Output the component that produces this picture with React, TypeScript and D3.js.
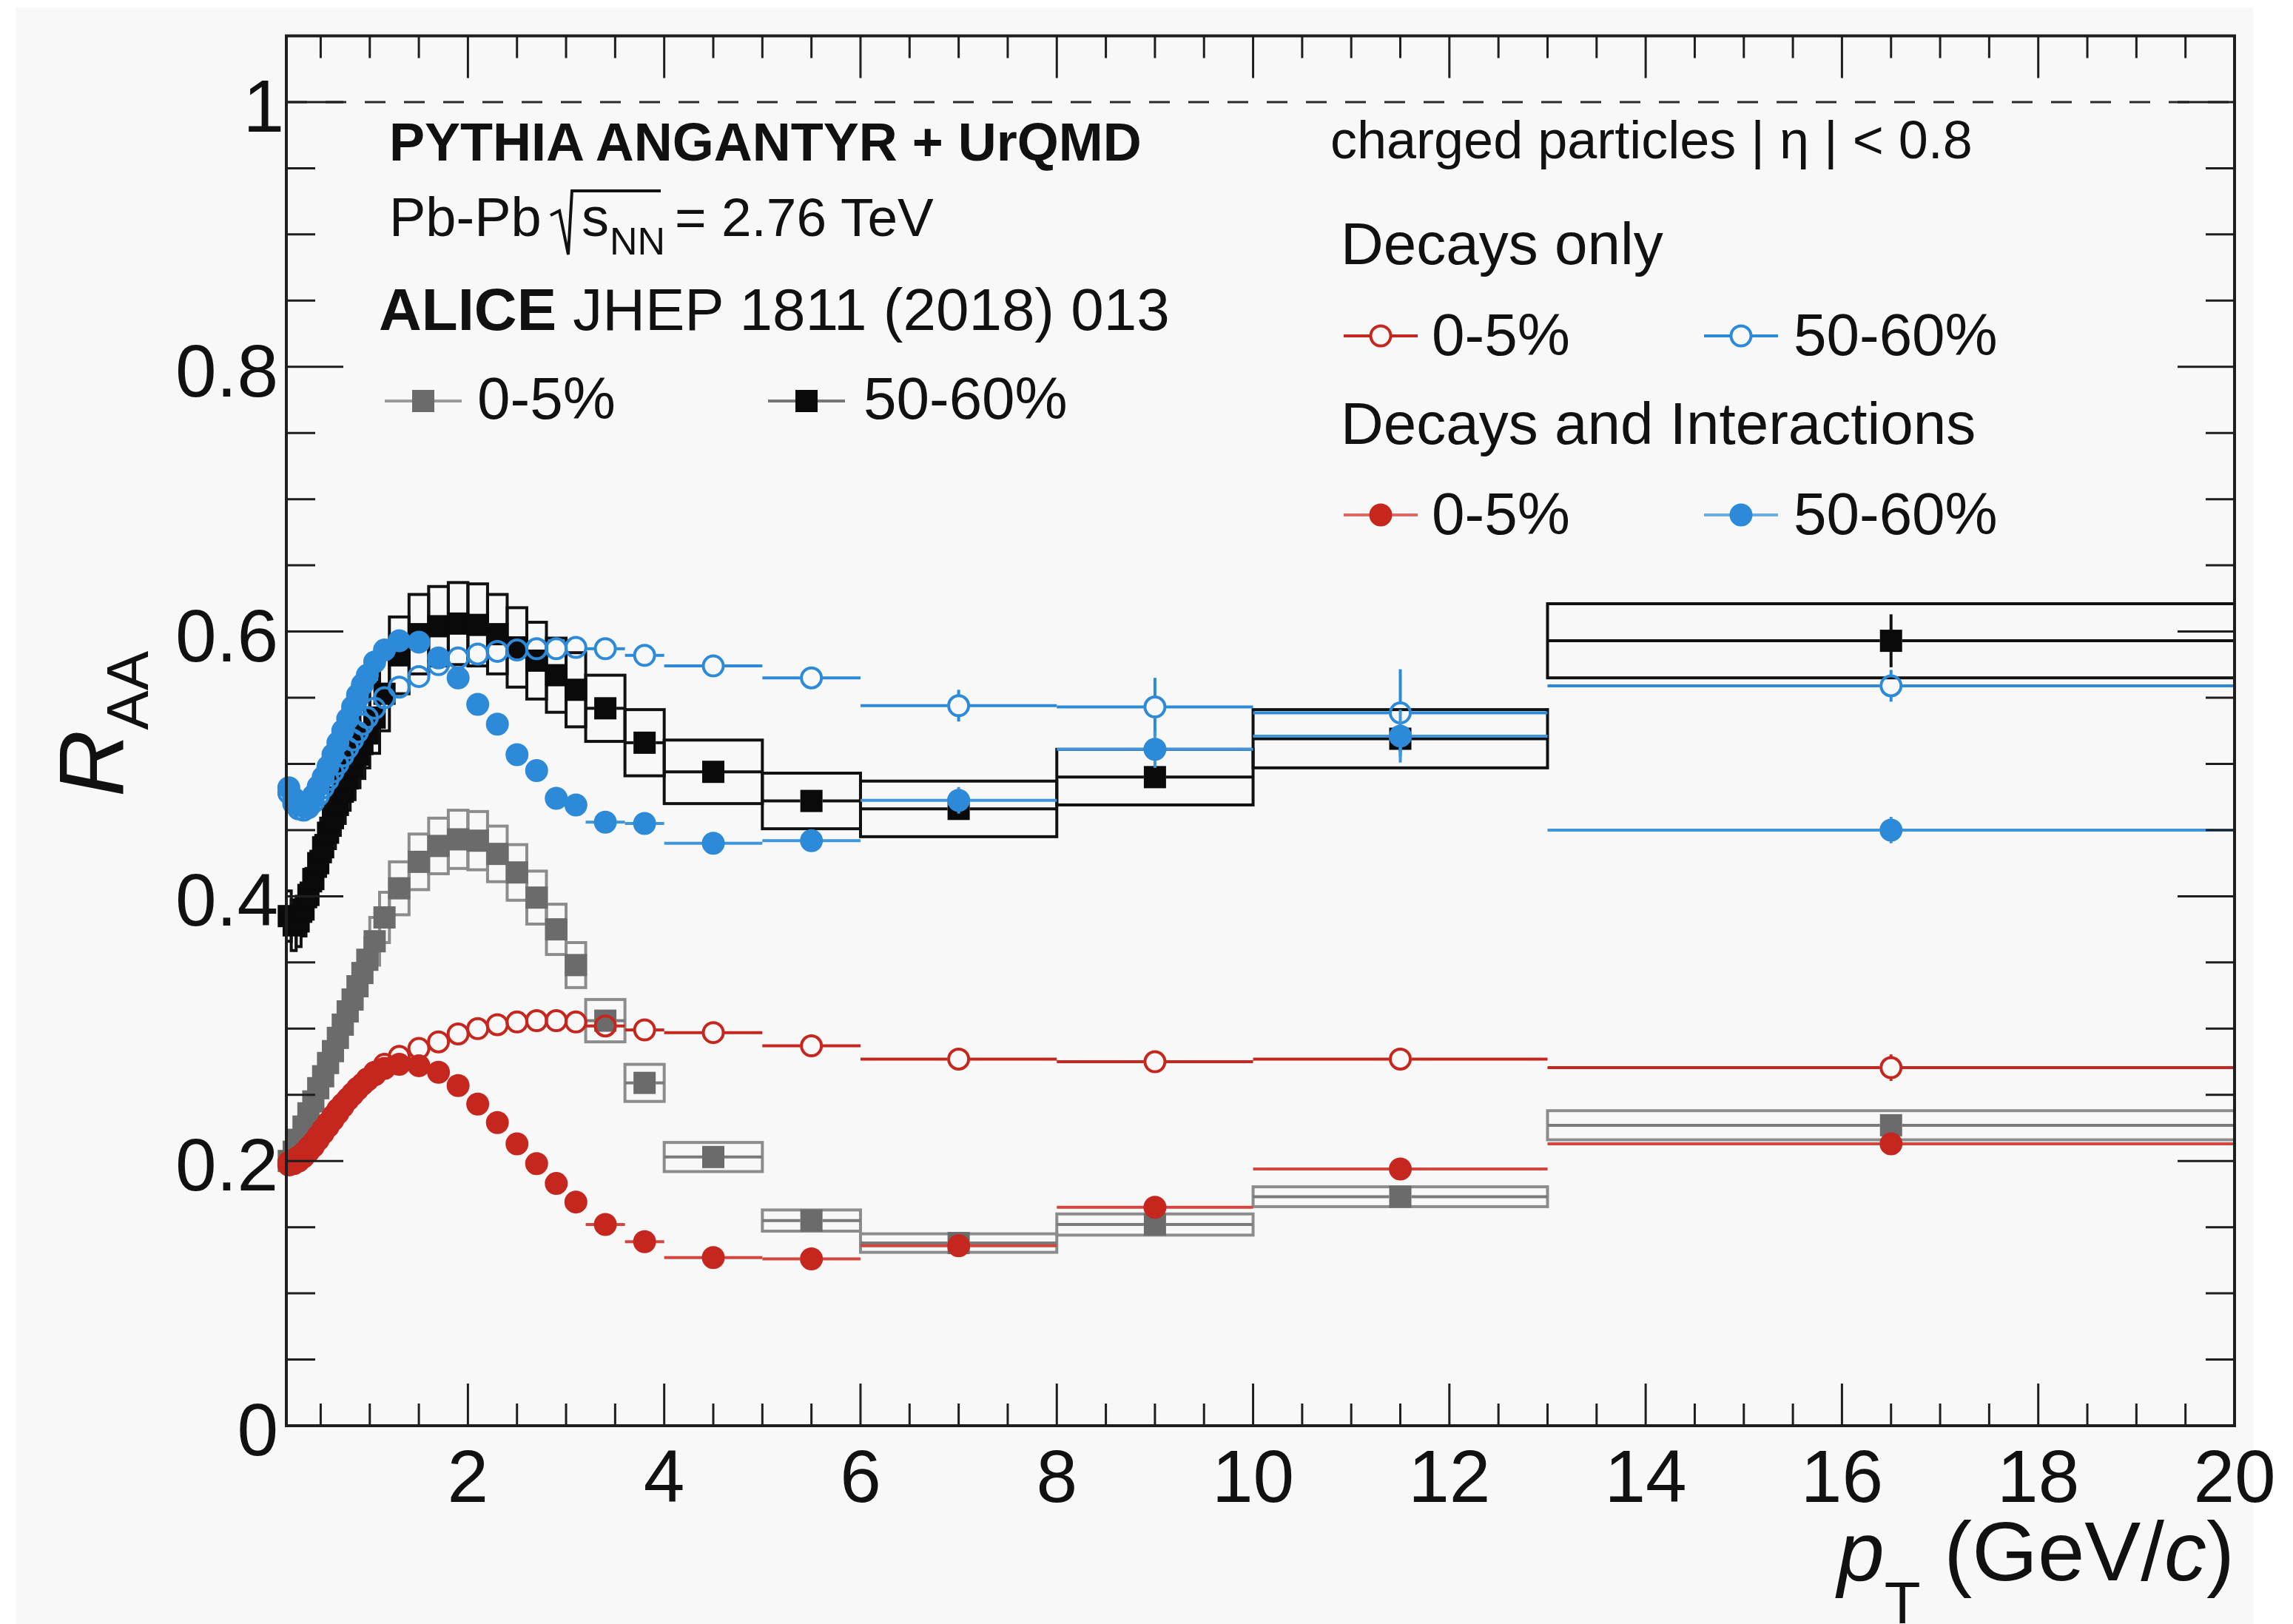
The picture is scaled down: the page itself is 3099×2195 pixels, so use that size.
import React from "react";
import * as d3 from "d3";

// ---------- data ----------
const binEdges = [0.15, 0.2, 0.25, 0.3, 0.35, 0.4, 0.45, 0.5, 0.55, 0.6, 0.65, 0.7, 0.75, 0.8, 0.85, 0.9, 0.95, 1.0, 1.1, 1.2, 1.4, 1.6, 1.8, 2.0, 2.2, 2.4, 2.6, 2.8, 3.0, 3.2, 3.6, 4.0, 5, 6, 8, 10, 13, 20];

// ALICE data, 0-5% (grey squares)
const alice0005 = [0.200, 0.207, 0.216, 0.226, 0.236, 0.245, 0.255, 0.264, 0.274, 0.283, 0.293, 0.303, 0.313, 0.322, 0.332, 0.342, 0.352, 0.366, 0.384, 0.406, 0.426, 0.438, 0.443, 0.442, 0.432, 0.418, 0.399, 0.375, 0.348, 0.306, 0.259, 0.203, 0.155, 0.138, 0.152, 0.173, 0.227];
const alice0005Sys = [0.010, 0.010, 0.011, 0.011, 0.012, 0.012, 0.013, 0.013, 0.014, 0.014, 0.015, 0.015, 0.016, 0.016, 0.017, 0.017, 0.017, 0.018, 0.019, 0.020, 0.021, 0.021, 0.022, 0.022, 0.021, 0.021, 0.020, 0.019, 0.017, 0.016, 0.014, 0.011, 0.008, 0.007, 0.008, 0.0075, 0.011];
const alice0005Stat = [0.002, 0.002, 0.002, 0.002, 0.002, 0.002, 0.002, 0.002, 0.002, 0.002, 0.002, 0.002, 0.002, 0.002, 0.002, 0.002, 0.002, 0.002, 0.002, 0.002, 0.002, 0.002, 0.002, 0.002, 0.002, 0.002, 0.002, 0.002, 0.002, 0.002, 0.002, 0.002, 0.002, 0.002, 0.003, 0.004, 0.008];

// ALICE data, 50-60% (black squares)
const alice5060 = [0.385, 0.378, 0.381, 0.390, 0.401, 0.413, 0.425, 0.437, 0.448, 0.459, 0.469, 0.479, 0.489, 0.498, 0.507, 0.515, 0.523, 0.535, 0.553, 0.582, 0.598, 0.604, 0.606, 0.605, 0.598, 0.588, 0.578, 0.567, 0.556, 0.542, 0.516, 0.494, 0.472, 0.466, 0.490, 0.519, 0.593];
const alice5060Sys = [0.019, 0.019, 0.019, 0.020, 0.020, 0.021, 0.021, 0.022, 0.022, 0.023, 0.023, 0.024, 0.024, 0.025, 0.025, 0.026, 0.026, 0.027, 0.028, 0.029, 0.030, 0.030, 0.031, 0.031, 0.030, 0.030, 0.029, 0.028, 0.028, 0.025, 0.025, 0.024, 0.021, 0.021, 0.021, 0.022, 0.028];
const alice5060Stat = [0.003, 0.003, 0.003, 0.003, 0.003, 0.003, 0.003, 0.003, 0.003, 0.003, 0.003, 0.003, 0.003, 0.003, 0.003, 0.003, 0.003, 0.003, 0.003, 0.003, 0.003, 0.003, 0.003, 0.003, 0.003, 0.003, 0.003, 0.003, 0.003, 0.004, 0.004, 0.004, 0.005, 0.005, 0.007, 0.010, 0.020];

// PYTHIA Angantyr + UrQMD, decays only
const decays0005 = [0.199, 0.201, 0.203, 0.206, 0.210, 0.214, 0.219, 0.224, 0.229, 0.234, 0.239, 0.243, 0.247, 0.251, 0.255, 0.258, 0.262, 0.267, 0.273, 0.279, 0.285, 0.290, 0.296, 0.300, 0.303, 0.305, 0.306, 0.306, 0.305, 0.302, 0.299, 0.297, 0.287, 0.277, 0.275, 0.277, 0.2705];
const decays0005Err = [0, 0, 0, 0, 0, 0, 0, 0, 0, 0, 0, 0, 0, 0, 0, 0, 0, 0, 0, 0, 0, 0, 0, 0, 0, 0, 0, 0, 0, 0.002, 0.002, 0.003, 0.003, 0.004, 0.006, 0.008, 0.010];
const decays5060 = [0.478, 0.470, 0.466, 0.465, 0.467, 0.471, 0.476, 0.482, 0.488, 0.494, 0.500, 0.506, 0.512, 0.518, 0.524, 0.530, 0.535, 0.542, 0.550, 0.558, 0.566, 0.575, 0.580, 0.583, 0.585, 0.586, 0.587, 0.587, 0.588, 0.587, 0.582, 0.574, 0.565, 0.544, 0.543, 0.5385, 0.559];
const decays5060Err = [0, 0, 0, 0, 0, 0, 0, 0, 0, 0, 0, 0, 0, 0, 0, 0, 0, 0, 0, 0, 0, 0, 0, 0, 0, 0, 0, 0, 0, 0.003, 0.004, 0.006, 0.008, 0.012, 0.022, 0.033, 0.012];

// PYTHIA Angantyr + UrQMD, decays and interactions
const decInt0005 = [0.197, 0.198, 0.200, 0.203, 0.207, 0.211, 0.216, 0.221, 0.226, 0.231, 0.236, 0.241, 0.246, 0.250, 0.254, 0.258, 0.261, 0.265, 0.270, 0.273, 0.272, 0.267, 0.257, 0.243, 0.229, 0.213, 0.198, 0.183, 0.169, 0.152, 0.139, 0.127, 0.126, 0.136, 0.165, 0.194, 0.213];
const decInt0005Err = [0, 0, 0, 0, 0, 0, 0, 0, 0, 0, 0, 0, 0, 0, 0, 0, 0, 0, 0, 0, 0, 0, 0, 0, 0, 0, 0, 0, 0, 0.002, 0.002, 0.002, 0.003, 0.004, 0.005, 0.007, 0.008];
const decInt5060 = [0.482, 0.474, 0.469, 0.468, 0.471, 0.476, 0.483, 0.490, 0.498, 0.507, 0.516, 0.525, 0.534, 0.543, 0.552, 0.560, 0.567, 0.577, 0.586, 0.593, 0.592, 0.580, 0.565, 0.545, 0.530, 0.507, 0.495, 0.474, 0.469, 0.456, 0.455, 0.440, 0.442, 0.4725, 0.511, 0.521, 0.450];
const decInt5060Err = [0, 0, 0, 0, 0, 0, 0, 0, 0, 0, 0, 0, 0, 0, 0, 0, 0, 0, 0, 0, 0, 0, 0, 0, 0, 0, 0, 0, 0, 0.003, 0.004, 0.005, 0.007, 0.010, 0.014, 0.020, 0.010];

// axes
const xDomain = [0.15, 20];
const yDomain = [0, 1.05];
const xMajorTicks = [2, 4, 6, 8, 10, 12, 14, 16, 18, 20];
const xTickLabels = ["2", "4", "6", "8", "10", "12", "14", "16", "18", "20"];
const yMajorTicks = [0, 0.2, 0.4, 0.6, 0.8, 1];
const yTickLabels = ["0", "0.2", "0.4", "0.6", "0.8", "1"];
const xMinorStep = 0.5;
const yMinorStep = 0.05;

// ---------- style ----------
const FONT = "'Liberation Sans', Arial, Helvetica, sans-serif";
const RED = "#c5271e";
const RED_LINE = "#d2463e";
const BLUE = "#2d8ad8";
const BLUE_LINE = "#3f95dc";
const GREY = "#6b6b6b";
const GREY_BOX = "#8c8c8c";
const BLACK = "#0a0a0a";
const AXIS = "#1e1e1e";
const BG = "#f8f8f8";

const MS = 15; // marker half-size

function ErrorCross({ cx, cy, xl, xr, yt, yb, gap, color, w }) {
  const segs = [];
  if (cx - gap > xl) segs.push([xl, cy, cx - gap, cy]);
  if (xr > cx + gap) segs.push([cx + gap, cy, xr, cy]);
  if (cy - gap > yt) segs.push([cx, yt, cx, cy - gap]);
  if (yb > cy + gap) segs.push([cx, cy + gap, cx, yb]);
  return (
    <g>
      {segs.map((s, i) => (
        <line key={i} x1={s[0]} y1={s[1]} x2={s[2]} y2={s[3]} stroke={color} strokeWidth={w} />
      ))}
    </g>
  );
}

export default function App() {
  const W = 3099;
  const H = 2195;
  const x = d3.scaleLinear().domain(xDomain).range([387, 3020]);
  const y = d3.scaleLinear().domain(yDomain).range([1927, 48.5]);
  const [X0, X1] = x.range();
  const [Y0, Y1] = y.range();

  const bins = d3.range(binEdges.length - 1).map((i) => ({
    lo: binEdges[i],
    hi: binEdges[i + 1],
    c: (binEdges[i] + binEdges[i + 1]) / 2,
  }));

  const isMajor = (v, majors) => majors.some((m) => Math.abs(m - v) < 1e-6);
  const minorX = d3
    .range(1, Math.round(xDomain[1] / xMinorStep))
    .map((i) => i * xMinorStep)
    .filter((v) => v > xDomain[0] && !isMajor(v, xMajorTicks));
  const minorY = d3
    .range(1, Math.round(yDomain[1] / yMinorStep))
    .map((i) => +(i * yMinorStep).toFixed(3))
    .filter((v) => v < yDomain[1] && !isMajor(v, yMajorTicks));

  const XMAJ = 57, XMIN = 30, YMAJ = 77, YMIN = 39;

  const dataSeries = (vals, sys, stat, markColor, boxColor, lineColor, key) => (
    <g key={key}>
      {bins.map((b, i) => (
        <rect
          key={"b" + i}
          x={x(b.lo)}
          y={y(vals[i] + sys[i])}
          width={x(b.hi) - x(b.lo)}
          height={y(vals[i] - sys[i]) - y(vals[i] + sys[i])}
          fill="none"
          stroke={boxColor}
          strokeWidth={4}
        />
      ))}
      {bins.map((b, i) => (
        <ErrorCross
          key={"e" + i}
          cx={x(b.c)}
          cy={y(vals[i])}
          xl={x(b.lo)}
          xr={x(b.hi)}
          yt={y(vals[i] + stat[i])}
          yb={y(vals[i] - stat[i])}
          gap={MS}
          color={lineColor}
          w={4}
        />
      ))}
      {bins.map((b, i) => (
        <rect key={"m" + i} x={x(b.c) - MS} y={y(vals[i]) - MS} width={2 * MS} height={2 * MS} fill={markColor} />
      ))}
    </g>
  );

  const modelSeries = (vals, errs, color, lineColor, open, key) => (
    <g key={key}>
      {bins.map((b, i) => (
        <ErrorCross
          key={"e" + i}
          cx={x(b.c)}
          cy={y(vals[i])}
          xl={x(b.lo)}
          xr={x(b.hi)}
          yt={y(vals[i] + errs[i])}
          yb={y(vals[i] - errs[i])}
          gap={MS}
          color={lineColor}
          w={4}
        />
      ))}
      {bins.map((b, i) =>
        open ? (
          <circle key={"m" + i} cx={x(b.c)} cy={y(vals[i])} r={MS - 1.5} fill="none" stroke={color} strokeWidth={4} />
        ) : (
          <circle key={"m" + i} cx={x(b.c)} cy={y(vals[i])} r={MS + 0.5} fill={color} />
        )
      )}
    </g>
  );

  const legendEntry = (cx, cy, half, type, color, lineColor, label, tx, ty) => (
    <g>
      <line x1={cx - half} y1={cy} x2={cx - MS} y2={cy} stroke={lineColor} strokeWidth={4} />
      <line x1={cx + MS} y1={cy} x2={cx + half} y2={cy} stroke={lineColor} strokeWidth={4} />
      {type === "square" && <rect x={cx - MS} y={cy - MS} width={2 * MS} height={2 * MS} fill={color} />}
      {type === "open" && <circle cx={cx} cy={cy} r={MS - 1.5} fill="none" stroke={color} strokeWidth={4} />}
      {type === "filled" && <circle cx={cx} cy={cy} r={MS + 0.5} fill={color} />}
      <text x={tx} y={ty} fontSize={80} fontFamily={FONT} fill="#111">
        {label}
      </text>
    </g>
  );

  return (
    <div style={{ position: "absolute", left: 0, top: 0 }}>
      <svg width={W} height={H} viewBox={`0 0 ${W} ${H}`} style={{ display: "block", background: "#ffffff" }}>
        <rect x={21} y={10} width={3024} height={H - 10} fill={BG} />

        {/* dashed line at unity */}
        <line x1={X0} y1={y(1)} x2={X1} y2={y(1)} stroke="#2a2a2a" strokeWidth={3} strokeDasharray="28 25" />

        {/* data */}
        {dataSeries(alice0005, alice0005Sys, alice0005Stat, GREY, GREY_BOX, "#7a7a7a", "g")}
        {dataSeries(alice5060, alice5060Sys, alice5060Stat, BLACK, "#111", "#111", "k")}

        {/* model */}
        {modelSeries(decays0005, decays0005Err, RED, RED, true, "ro")}
        {modelSeries(decays5060, decays5060Err, BLUE, BLUE, true, "bo")}
        {modelSeries(decInt0005, decInt0005Err, RED, RED_LINE, false, "rf")}
        {modelSeries(decInt5060, decInt5060Err, BLUE, BLUE_LINE, false, "bf")}

        {/* frame */}
        <rect x={X0} y={Y1} width={X1 - X0} height={Y0 - Y1} fill="none" stroke={AXIS} strokeWidth={4} />

        {/* ticks */}
        <g stroke={AXIS} strokeWidth={3}>
          {xMajorTicks.map((v) => (
            <g key={"xm" + v}>
              <line x1={x(v)} x2={x(v)} y1={Y0} y2={Y0 - XMAJ} />
              <line x1={x(v)} x2={x(v)} y1={Y1} y2={Y1 + XMAJ} />
            </g>
          ))}
          {minorX.map((v) => (
            <g key={"xn" + v}>
              <line x1={x(v)} x2={x(v)} y1={Y0} y2={Y0 - XMIN} />
              <line x1={x(v)} x2={x(v)} y1={Y1} y2={Y1 + XMIN} />
            </g>
          ))}
          {yMajorTicks.map((v) => (
            <g key={"ym" + v}>
              <line x1={X0} x2={X0 + YMAJ} y1={y(v)} y2={y(v)} />
              <line x1={X1} x2={X1 - YMAJ} y1={y(v)} y2={y(v)} />
            </g>
          ))}
          {minorY.map((v) => (
            <g key={"yn" + v}>
              <line x1={X0} x2={X0 + YMIN} y1={y(v)} y2={y(v)} />
              <line x1={X1} x2={X1 - YMIN} y1={y(v)} y2={y(v)} />
            </g>
          ))}
        </g>

        {/* tick labels */}
        <g fontFamily={FONT} fontSize={100} fill="#111">
          {xMajorTicks.map((v, i) => (
            <text key={"xl" + v} x={x(v)} y={Y0 + 103} textAnchor="middle">
              {xTickLabels[i]}
            </text>
          ))}
          {yMajorTicks.map((v, i) => (
            <text key={"yl" + v} x={yTickLabels[i] === "1" ? 384 : 376} y={y(v) + 40} textAnchor="end">
              {yTickLabels[i]}
            </text>
          ))}
        </g>

        {/* axis titles */}
        <text x={X1} y={2136} textAnchor="end" fontFamily={FONT} fontSize={114} fill="#111">
          <tspan fontStyle="italic">p</tspan>
          <tspan fontSize={80} dy={58}>T</tspan>
          <tspan dy={-58}> (GeV/</tspan>
          <tspan fontStyle="italic">c</tspan>
          <tspan>)</tspan>
        </text>
        <text transform="translate(167,1077) rotate(-90)" fontFamily={FONT} fontSize={125} fill="#111">
          <tspan fontStyle="italic">R</tspan>
          <tspan fontSize={80} dy={33}>AA</tspan>
        </text>

        {/* header text */}
        <g fontFamily={FONT} fill="#111">
          <text x={526} y={217} fontSize={72} fontWeight="bold">
            PYTHIA ANGANTYR + UrQMD
          </text>
          <text x={526} y={319} fontSize={74}>
            Pb-Pb
          </text>
          <path d="M744,291 L756,285 L768,344 L773,258 L893,258" fill="none" stroke="#111" strokeWidth={4} />
          <text x={786} y={319} fontSize={74}>
            s
          </text>
          <text x={824} y={344} fontSize={52}>
            NN
          </text>
          <text x={912} y={319} fontSize={73}>
            = 2.76 TeV
          </text>
          <text x={512} y={446} fontSize={80}>
            <tspan fontWeight="bold">ALICE</tspan>
            <tspan> JHEP 1811 (2018) 013</tspan>
          </text>
          <text x={1798} y={214} fontSize={72}>
            charged particles | η | &lt; 0.8
          </text>
          <text x={1812} y={357} fontSize={80}>
            Decays only
          </text>
          <text x={1812} y={600} fontSize={80}>
            Decays and Interactions
          </text>
        </g>

        {/* legends */}
        {legendEntry(572, 542, 52, "square", GREY, "#9a9a9a", "0-5%", 645, 566)}
        {legendEntry(1090, 542, 52, "square", BLACK, "#777", "50-60%", 1167, 566)}
        {legendEntry(1866, 454, 50, "open", RED, RED, "0-5%", 1935, 480)}
        {legendEntry(2353, 454, 50, "open", BLUE, BLUE, "50-60%", 2424, 480)}
        {legendEntry(1866, 696, 50, "filled", RED, "#dc6a62", "0-5%", 1935, 722)}
        {legendEntry(2353, 696, 50, "filled", BLUE, "#6aaee6", "50-60%", 2424, 722)}
      </svg>
    </div>
  );
}
